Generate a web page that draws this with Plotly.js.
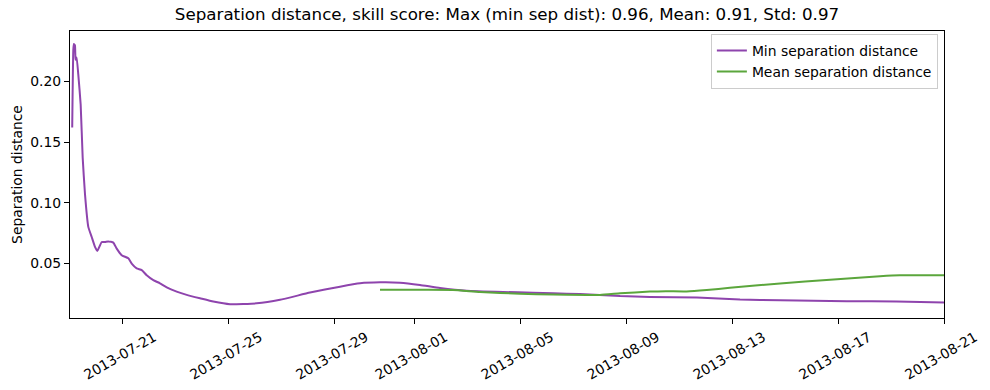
<!DOCTYPE html>
<html>
<head>
<meta charset="utf-8">
<script src="https://cdn.plot.ly/plotly-3.0.1.min.js"></script>
<style>html,body{margin:0;padding:0;background:#fff;}#chart{width:990px;height:390px;}</style>
</head>
<body>
<div id="chart"></div>
<script>
const minDates = [
  "2013-07-19 02:00","2013-07-19 03:00","2013-07-19 03:30","2013-07-19 04:30","2013-07-19 05:00",
  "2013-07-19 06:00","2013-07-19 07:30","2013-07-19 09:40","2013-07-19 11:30","2013-07-19 13:35",
  "2013-07-19 16:35","2013-07-19 19:40","2013-07-19 22:40","2013-07-20 00:45","2013-07-20 04:45",
  "2013-07-20 07:40","2013-07-20 10:40","2013-07-20 15:15","2013-07-20 18:20","2013-07-20 22:50",
  "2013-07-21 04:50","2013-07-21 07:55","2013-07-21 12:25","2013-07-21 17:00","2013-07-21 21:30",
  "2013-07-22 03:30","2013-07-22 09:30","2013-07-22 15:40","2013-07-23 00:40","2013-07-23 09:45",
  "2013-07-23 21:50","2013-07-24 09:50","2013-07-25 01:00","2013-07-26 01:10","2013-07-26 22:20",
  "2013-07-28 01:30","2013-07-29 04:40","2013-07-29 22:50","2013-07-30 16:55","2013-07-31 11:00",
  "2013-08-01 05:10","2013-08-01 23:15","2013-08-02 23:30","2013-08-04 08:30","2013-08-05 11:30",
  "2013-08-06 05:45","2013-08-07 06:00","2013-08-08 00:00","2013-08-08 18:30","2013-08-09 21:30",
  "2013-08-11 16:00","2013-08-13 07:10","2013-08-14 19:30","2013-08-17 08:00","2013-08-19 05:00",
  "2013-08-21 00:00"
];
const minValues = [
  0.162,0.226,0.231,0.230,0.218,
  0.220,0.206,0.181,0.137,0.107,
  0.080,0.0716,0.0634,0.0601,0.0675,
  0.0675,0.068,0.067,0.062,0.0566,
  0.054,0.0497,0.0457,0.0443,0.040,
  0.036,0.0334,0.030,0.0265,0.0238,
  0.021,0.0183,0.0161,0.0168,0.0197,
  0.0257,0.0306,0.0334,0.0342,0.0339,
  0.032,0.0295,0.0272,0.0262,0.0256,
  0.0251,0.0245,0.0238,0.0228,0.0221,
  0.0216,0.0199,0.0194,0.0186,0.0183,
  0.0175
];
const meanDates = [
  "2013-07-30 16:55","2013-08-01 00:00","2013-08-02 11:00","2013-08-03 11:30","2013-08-04 23:45",
  "2013-08-06 05:45","2013-08-08 00:15","2013-08-08 18:30","2013-08-09 21:30","2013-08-10 12:00",
  "2013-08-11 06:45","2013-08-12 01:00","2013-08-12 22:00","2013-08-14 19:30","2013-08-16 16:45",
  "2013-08-18 14:00","2013-08-19 08:00","2013-08-21 00:00"
];
const meanValues = [
  0.0280,0.0280,0.0279,0.0262,0.0247,
  0.0241,0.0238,0.0251,0.0265,0.0268,
  0.0266,0.0278,0.0297,0.0332,0.0364,
  0.0392,0.0400,0.0401
];
const xTickVals = ["2013-07-21","2013-07-25","2013-07-29","2013-08-01","2013-08-05","2013-08-09","2013-08-13","2013-08-17","2013-08-21"];
const xTickText = ["2013-07-21","2013-07-25","2013-07-29","2013-08-01","2013-08-05","2013-08-09","2013-08-13","2013-08-17","2013-08-21"];
const yTickVals = [0.05,0.10,0.15,0.20];
const yTickText = ["0.05","0.10","0.15","0.20"];
const titleText = "Separation distance, skill score: Max (min sep dist): 0.96, Mean: 0.91, Std: 0.97";

const FONT = "DejaVu Sans, sans-serif";
const traces = [
  {x: minDates, y: minValues, type: "scatter", mode: "lines", name: "Min separation distance",
   line: {color: "#8e44ad", width: 2, shape: "spline", smoothing: 0.4}},
  {x: meanDates, y: meanValues, type: "scatter", mode: "lines", name: "Mean separation distance",
   line: {color: "#5ba63c", width: 2, shape: "spline", smoothing: 0.4}}
];
const axisCommon = {showline: true, linecolor: "#000", linewidth: 1, mirror: true, ticks: "outside",
  ticklen: 5, tickwidth: 1, tickcolor: "#000", showgrid: false, zeroline: false,
  tickfont: {family: FONT, size: 13.9, color: "#000"}};
const layout = {
  width: 990, height: 390,
  margin: {l: 70, r: 46, t: 31, b: 72},
  paper_bgcolor: "#fff", plot_bgcolor: "#fff",
  font: {family: FONT, color: "#000"},
  title: {text: titleText, font: {family: FONT, size: 16.7, color: "#000"},
    x: 0.5, xref: "paper", xanchor: "center", y: 1, yref: "container", yanchor: "top", pad: {t: 8}},
  showlegend: true,
  legend: {x: 0.993, xanchor: "right", y: 0.99, yanchor: "top", bgcolor: "#fff",
    bordercolor: "#cccccc", borderwidth: 1, font: {family: FONT, size: 13.9, color: "#000"},
    itemwidth: 30, tracegroupgap: 0},
  xaxis: Object.assign({}, axisCommon, {type: "date", range: ["2013-07-19 00:00", "2013-08-21 00:00"],
    tickmode: "array", tickvals: xTickVals, ticktext: xTickText, tickangle: -30, ticklabelshift: 31}),
  yaxis: Object.assign({}, axisCommon, {range: [0.0047, 0.2418], tickmode: "array",
    tickvals: yTickVals, ticktext: yTickText,
    title: {text: "Separation distance", font: {family: FONT, size: 13.9, color: "#000"}, standoff: 4}})
};
Plotly.newPlot("chart", traces, layout, {displayModeBar: false, staticPlot: true});
</script>
</body>
</html>
